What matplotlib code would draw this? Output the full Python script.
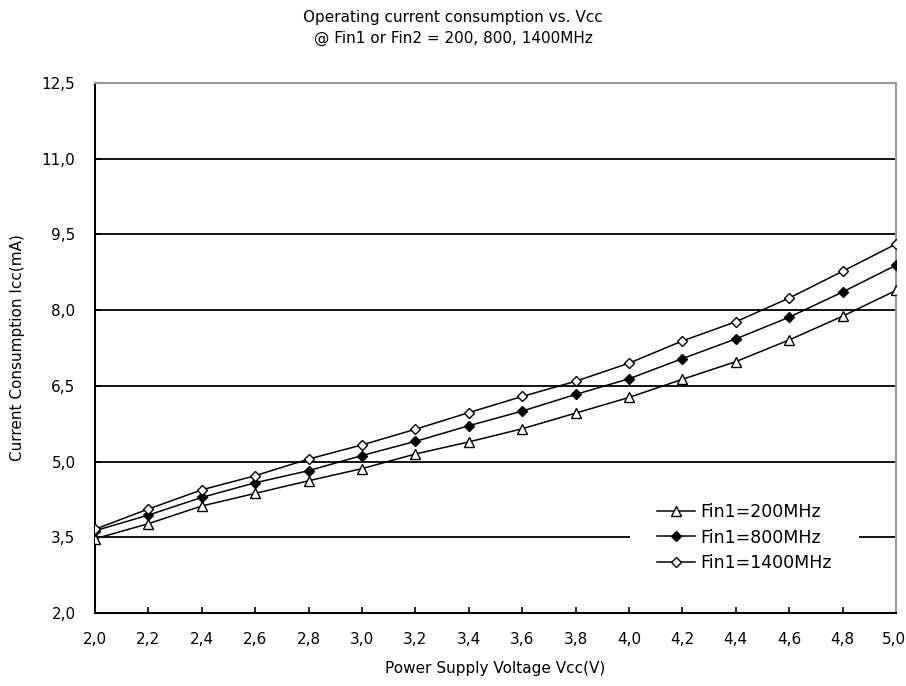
import matplotlib
matplotlib.use("Agg")
import matplotlib.pyplot as plt
import matplotlib.transforms as mtransforms
from matplotlib.ticker import FuncFormatter

vcc = [2.0, 2.2, 2.4, 2.6, 2.8, 3.0, 3.2, 3.4, 3.6, 3.8, 4.0, 4.2, 4.4, 4.6, 4.8, 5.0]
icc_200 = [3.47, 3.77, 4.12, 4.37, 4.62, 4.86, 5.15, 5.39, 5.65, 5.96, 6.27, 6.63, 6.98, 7.41, 7.88, 8.39]
icc_800 = [3.63, 3.94, 4.29, 4.58, 4.82, 5.12, 5.40, 5.71, 6.00, 6.33, 6.64, 7.04, 7.43, 7.86, 8.36, 8.89]
icc_1400 = [3.66, 4.06, 4.44, 4.72, 5.05, 5.33, 5.64, 5.97, 6.29, 6.59, 6.95, 7.39, 7.77, 8.24, 8.77, 9.31]
labels = ["Fin1=200MHz", "Fin1=800MHz", "Fin1=1400MHz"]
xticks = [2.0, 2.2, 2.4, 2.6, 2.8, 3.0, 3.2, 3.4, 3.6, 3.8, 4.0, 4.2, 4.4, 4.6, 4.8, 5.0]
yticks = [2.0, 3.5, 5.0, 6.5, 8.0, 9.5, 11.0, 12.5]

plt.rcParams['font.family'] = ['DejaVu Sans']
fig = plt.figure(figsize=(9.06, 6.86), dpi=100)
ax = fig.add_axes([95/906, 1-613/686, (896-95)/906, (613-83)/686])

for y in yticks[1:-1]:
    ax.axhline(y, color='black', lw=1.3, zorder=1)

ax.plot(vcc, icc_200, color='black', lw=1.1, marker='^', ms=7, mfc='white', mec='black', mew=1.0, label=labels[0], zorder=3)
ax.plot(vcc, icc_800, color='black', lw=1.1, marker='D', ms=5.5, mfc='black', mec='black', label=labels[1], zorder=3)
ax.plot(vcc, icc_1400, color='black', lw=1.1, marker='D', ms=5.5, mfc='white', mec='black', mew=1.0, label=labels[2], zorder=3)

ax.set_xlim(2.0, 5.0)
ax.set_ylim(2.0, 12.5)
ax.set_xticks(xticks)
ax.set_yticks(yticks)
fmt = FuncFormatter(lambda v, p: f"{v:.1f}".replace('.', ','))
ax.xaxis.set_major_formatter(fmt)
ax.yaxis.set_major_formatter(fmt)
ax.tick_params(axis='both', direction='in', length=4, width=1.2, labelsize=11, color='black')
ax.tick_params(axis='x', pad=14)
ax.tick_params(axis='y', pad=14)

fig.canvas.draw()
last = ax.get_xticklabels()[-1]
last.set_horizontalalignment('right')
last.set_transform(last.get_transform() + mtransforms.ScaledTranslation(0.10, 0, fig.dpi_scale_trans))

ax.spines['left'].set_linewidth(1.5)
ax.spines['bottom'].set_linewidth(1.5)
ax.spines['top'].set_color('#999999')
ax.spines['right'].set_color('#999999')
ax.spines['top'].set_linewidth(1.5)
ax.spines['right'].set_linewidth(1.5)

ax.set_xlabel("Power Supply Voltage Vcc(V)", fontsize=11, labelpad=10)
ax.set_ylabel("Current Consumption Icc(mA)", fontsize=11, labelpad=12)

fig.text(0.5, 1-28/686, "Operating current consumption vs. Vcc\n@ Fin1 or Fin2 = 200, 800, 1400MHz",
         ha='center', va='center', fontsize=11, linespacing=1.5)

leg = ax.legend(loc='upper left', bbox_to_anchor=((630-95)/801, (613-476)/530), borderaxespad=0,
                frameon=True, fancybox=False, edgecolor='white', framealpha=1, fontsize=12.5,
                handlelength=2.2, labelspacing=0.44, borderpad=1.55, handletextpad=0.3)
leg.get_frame().set_linewidth(0)

fig.savefig("out.png", dpi=100, facecolor='white')
